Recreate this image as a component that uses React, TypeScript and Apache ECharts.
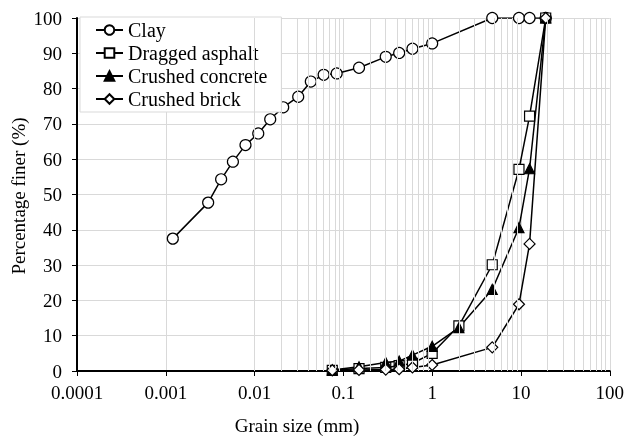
import React, { useEffect, useRef } from "react";
import * as echarts from "echarts";

const clayX = [0.0012, 0.003, 0.0042, 0.0057, 0.0079, 0.011, 0.015, 0.021, 0.031, 0.043, 0.06, 0.084, 0.15, 0.3, 0.425, 0.6, 1.0, 4.75, 9.5, 12.5, 19];
const clayY = [37.5, 47.7, 54.3, 59.3, 64.0, 67.3, 71.3, 74.7, 77.7, 82.0, 83.9, 84.3, 85.9, 89.0, 90.1, 91.3, 92.8, 100, 100, 100, 100];
const sieveX = [0.075, 0.15, 0.3, 0.425, 0.6, 1, 2, 4.75, 9.5, 12.5, 19];
const asphaltY = [0.2, 0.7, 1.0, 1.5, 2.2, 5.0, 12.8, 30.1, 57.1, 72.2, 100];
const concreteY = [0.3, 1.2, 2.4, 2.8, 4.5, 7.0, 12.3, 23.1, 40.6, 57.3, 100];
const brickX = [0.075, 0.15, 0.3, 0.425, 0.6, 1, 4.75, 9.5, 12.5, 19];
const brickY = [0.2, 0.3, 0.4, 0.5, 1.0, 1.7, 6.7, 18.9, 36.0, 100];

const seriesNames = ["Clay", "Dragged asphalt", "Crushed concrete", "Crushed brick"];
const xTitle = "Grain size (mm)";
const yTitle = "Percentage finer (%)";

const FONT = '"Liberation Serif", "Times New Roman", serif';
const GRID = "#d9d9d9";

const minorGrid: number[] = [];
for (let d = -4; d <= 1; d++) {
  for (let k = 2; k <= 9; k++) {
    minorGrid.push(Number((k * Math.pow(10, d)).toPrecision(2)));
  }
}

const zip = (xs: number[], ys: number[]) => xs.map((x, i) => [x, ys[i]]);

export default function App() {
  const ref = useRef<HTMLDivElement>(null);
  useEffect(() => {
    if (!ref.current) return;
    const chart = echarts.init(ref.current, undefined, { renderer: "svg" });
    const mk = (name: string, data: number[][], symbol: string, size: number, filled: boolean) => ({
      name,
      type: "line",
      data,
      symbol,
      symbolSize: size,
      showAllSymbol: true,
      z: 3,
      lineStyle: { color: "#000", width: 1.5 },
      itemStyle: { color: filled ? "#000" : "#fff", borderColor: "#000", borderWidth: 1.2 },
      emphasis: { disabled: true },
    });
    chart.setOption({
      animation: false,
      textStyle: { fontFamily: FONT },
      grid: { left: 77, right: 15, top: 18, bottom: 67 },
      legend: {
        data: seriesNames,
        orient: "vertical",
        left: 80,
        top: 17,
        backgroundColor: "#fff",
        borderColor: GRID,
        borderWidth: 1,
        borderRadius: 0,
        padding: [3, 14, 3, 15],
        itemGap: 3,
        itemWidth: 27,
        itemHeight: 12,
        textStyle: { fontFamily: FONT, fontSize: 20, color: "#000", lineHeight: 20 },
      },
      xAxis: {
        type: "log",
        logBase: 10,
        min: 0.0001,
        max: 100,
        axisLine: { show: true, onZero: false, lineStyle: { color: "#000", width: 2 } },
        axisTick: { show: true, inside: false, length: 5, lineStyle: { color: "#000", width: 1 } },
        axisLabel: {
          fontFamily: FONT,
          fontSize: 19,
          color: "#000",
          margin: 12,
          formatter: (v: number) => String(Number(v.toPrecision(1))),
        },
        splitLine: { show: true, lineStyle: { color: GRID, width: 1 } },
        minorTick: { show: false },
      },
      yAxis: {
        type: "value",
        min: 0,
        max: 100,
        interval: 10,
        axisLine: { show: true, lineStyle: { color: "#000", width: 2 } },
        axisTick: { show: true, inside: false, length: 5, lineStyle: { color: "#000", width: 1 } },
        axisLabel: { fontFamily: FONT, fontSize: 19, color: "#000", margin: 15 },
        splitLine: { show: true, lineStyle: { color: GRID, width: 1 } },
      },
      graphic: [
        {
          type: "text",
          x: 297,
          y: 425,
          style: { text: xTitle, font: `19px ${FONT}`, fill: "#000", align: "center", verticalAlign: "middle" },
        },
        {
          type: "text",
          x: 18,
          y: 196,
          rotation: Math.PI / 2,
          style: { text: yTitle, font: `19px ${FONT}`, fill: "#000", align: "center", verticalAlign: "middle" },
        },
      ],
      series: [
        {
          name: "grid-minor",
          type: "line",
          data: [],
          z: 1,
          silent: true,
          markLine: {
            silent: true,
            symbol: ["none", "none"],
            label: { show: false },
            lineStyle: { color: GRID, type: "solid", width: 1 },
            emphasis: { disabled: true },
            data: minorGrid.map((v) => ({ xAxis: v })),
          },
        },
        mk(seriesNames[0], zip(clayX, clayY), "circle", 11, false),
        mk(seriesNames[1], zip(sieveX, asphaltY), "rect", 10, false),
        mk(seriesNames[2], zip(sieveX, concreteY), "triangle", 10, true),
        mk(seriesNames[3], zip(brickX, brickY), "diamond", 11, false),
      ],
    });
    return () => chart.dispose();
  }, []);
  return <div ref={ref} style={{ position: "fixed", left: 0, top: 0, width: 627, height: 438 }} />;
}
